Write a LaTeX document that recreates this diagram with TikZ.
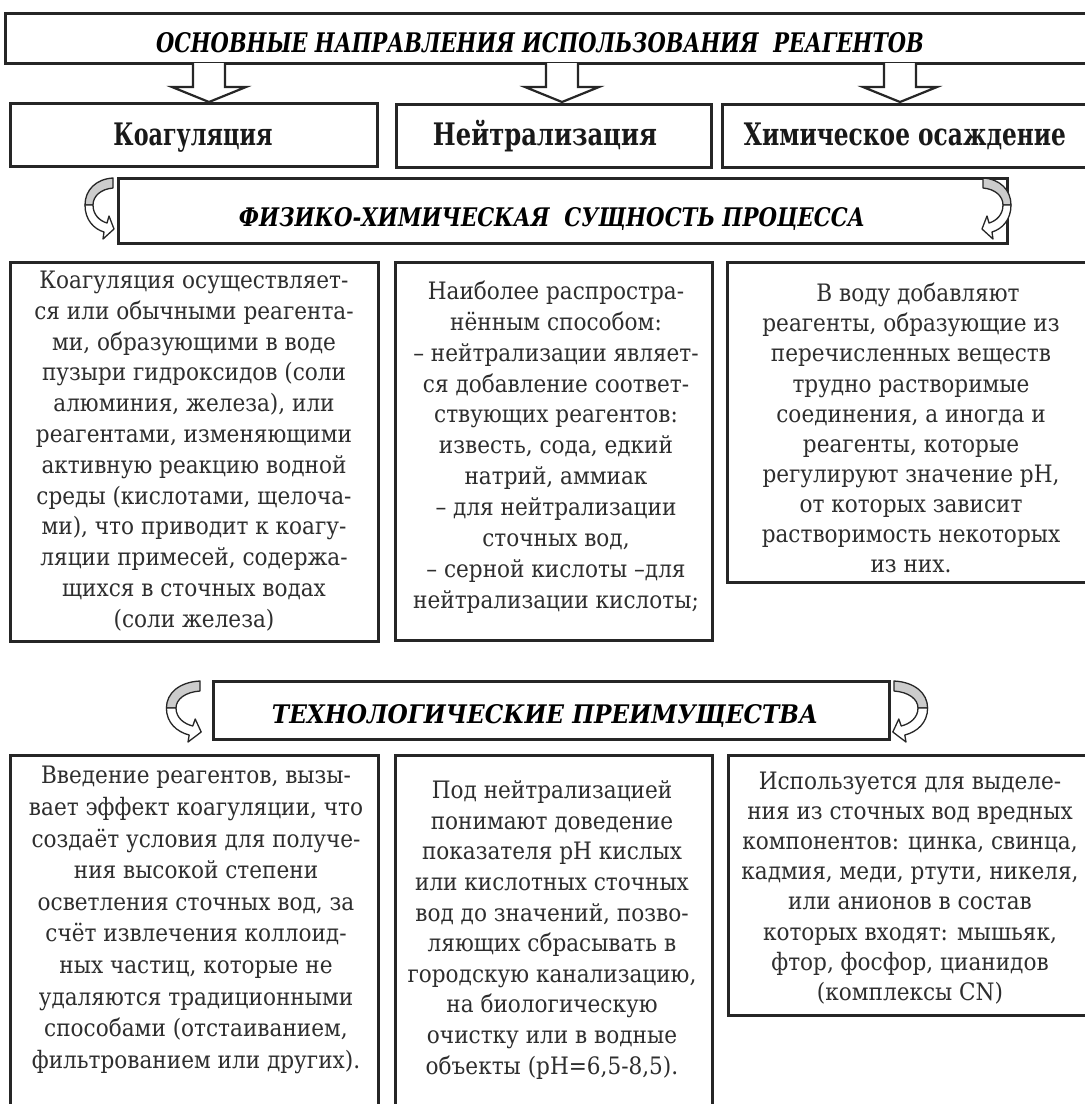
\documentclass[tikz,border=0pt]{standalone}
\usepackage{fontspec}
\setmainfont{DejaVu Serif}[FakeStretch=0.9]
\usetikzlibrary{calc}
\definecolor{ink}{HTML}{262626}
\definecolor{txt}{HTML}{2E2E2E}
\definecolor{curlgray}{HTML}{CCCCCC}
\tikzset{
  box/.style={draw=ink, line width=3pt, fill=white, rectangle, inner sep=0pt, outer sep=0pt, anchor=north west},
  body/.style={text=txt, align=center, inner sep=0pt},
  ttl/.style={text=black, inner sep=0pt, anchor=base},
  lbl/.style={text=black!90, inner sep=0pt, anchor=base},
  curlstyle/.style={draw=ink, line width=1.3pt, line join=round},
  curl/.pic={
    \filldraw[curlstyle, fill=curlgray] (0,0) .. controls (-17,-1) and (-28,-12) .. (-28,-27) -- (-20,-27) .. controls (-20,-18) and (-12,-11) .. (0,-10) -- cycle;
    \filldraw[curlstyle, fill=white] (-28,-27) .. controls (-28,-42) and (-19,-51) .. (-9,-54) -- (-10,-61) -- (1,-51) -- (-4,-38) -- (-6,-45) .. controls (-13,-43) and (-20,-37) .. (-20,-27) -- cycle;
  },
  dnarrow/.pic={
    \filldraw[draw=ink, fill=white, line width=2.2pt, line join=miter] (-16,0) -- (-16,-24) -- (-37,-24) -- (0,-39) -- (37,-24) -- (16,-24) -- (16,0);
  },
}
\newcommand{\lblfont}{\fontsize{31}{34}\selectfont\bfseries}
\begin{document}
\begin{tikzpicture}[x=1pt, y=1pt]
\useasboundingbox (0,0) rectangle (1085,-1104);
\fill[white] (0,0) rectangle (1085,-1104);
\clip (0,0) rectangle (1085,-1104);

% boxes
\node[box, minimum width=1100pt, minimum height=50pt] (top) at (5,-13) {};
\node[box, minimum width=367pt, minimum height=63pt] (k) at (10,-103) {};
\node[box, minimum width=315pt, minimum height=63pt] (n) at (396,-104) {};
\node[box, minimum width=378pt, minimum height=63pt] (h) at (722,-104) {};
\node[box, minimum width=889pt, minimum height=65pt] (phys) at (118,-178) {};
\node[box, minimum width=368pt, minimum height=379pt] (r3a) at (10,-262) {};
\node[box, minimum width=317pt, minimum height=378pt] (r3b) at (395,-262) {};
\node[box, minimum width=373pt, minimum height=320pt] (r3c) at (727,-262) {};
\node[box, minimum width=676pt, minimum height=58pt] (tech) at (213,-681) {};
\node[box, minimum width=368pt, minimum height=380pt] (r4a) at (10,-755) {};
\node[box, minimum width=317pt, minimum height=380pt] (r4b) at (395,-755) {};
\node[box, minimum width=372pt, minimum height=260pt] (r4c) at (728,-755) {};

% block arrows from the title box down to the three methods
\coordinate (a1) at (209,-63);
\coordinate (a2) at (562,-63);
\coordinate (a3) at (900,-63);
\pic at (a1) {dnarrow};
\pic at (a2) {dnarrow};
\pic at (a3) {dnarrow};

% curled arrows
\pic at (113,-178) {curl};
\pic[xscale=-1] at (983,-178) {curl};
\pic[xscale=1.2] at (200,-681) {curl};
\pic[xscale=-1.2] at (894,-681) {curl};

% titles
\node[ttl] (tt) at (540,-52) {\resizebox{768pt}{20pt}{\bfseries\itshape ОСНОВНЫЕ НАПРАВЛЕНИЯ ИСПОЛЬЗОВАНИЯ\ \ РЕАГЕНТОВ}};
\node[ttl] (pt) at (552,-226) {\resizebox{626pt}{19pt}{\bfseries\itshape ФИЗИКО-ХИМИЧЕСКАЯ\ \ СУЩНОСТЬ ПРОЦЕССА}};
\node[ttl] (tp) at (545,-723) {\resizebox{546pt}{19pt}{\bfseries\itshape ТЕХНОЛОГИЧЕСКИЕ ПРЕИМУЩЕСТВА}};

% method labels
\node[lbl] (kl) at (193,-145) {\resizebox{159pt}{\height}{\lblfont Коагуляция}};
\node[lbl] (nl) at (545,-145) {\resizebox{224pt}{\height}{\lblfont Нейтрализация}};
\node[lbl] (hl) at (905,-145) {\resizebox{322pt}{\height}{\lblfont Химическое осаждение}};

% body texts, row 3
\node[body, font=\fontsize{24}{30.8}\selectfont] (t3a) at (194,-451) {Коагуляция осуществляет-\\ся или обычными реагента-\\ми, образующими в воде\\пузыри гидроксидов (соли\\алюминия, железа), или\\реагентами, изменяющими\\активную реакцию водной\\среды (кислотами, щелоча-\\ми), что приводит к коагу-\\ляции примесей, содержа-\\щихся в сточных водах\\(соли железа)};
\node[body, font=\fontsize{24}{30.9}\selectfont] (t3b) at (556,-447) {Наиболее распростра-\\нённым способом:\\– нейтрализации являет-\\ся добавление соответ-\\ствующих реагентов:\\известь, сода, едкий\\натрий, аммиак\\– для нейтрализации\\сточных вод,\\– серной кислоты –для\\нейтрализации кислоты;};
\node[body, font=\fontsize{24}{30.1}\selectfont] (t3c) at (911,-428) {\hspace*{14pt}В воду добавляют\\реагенты, образующие из\\перечисленных веществ\\трудно растворимые\\соединения, а иногда и\\реагенты, которые\\регулируют значение рН,\\от которых зависит\\растворимость некоторых\\из них.};

% body texts, row 4
\node[body, font=\fontsize{24}{31.6}\selectfont] (t4a) at (196,-920) {Введение реагентов, вызы-\\вает эффект коагуляции, что\\создаёт условия для получе-\\ния высокой степени\\осветления сточных вод, за\\счёт извлечения коллоид-\\ных частиц, которые не\\удаляются традиционными\\способами (отстаиванием,\\фильтрованием или других).};
\node[body, font=\fontsize{24}{30.6}\selectfont] (t4b) at (552,-930) {Под нейтрализацией\\понимают доведение\\показателя рН кислых\\или кислотных сточных\\вод до значений, позво-\\ляющих сбрасывать в\\городскую канализацию,\\на биологическую\\очистку или в водные\\объекты (рН=6,5-8,5).};
\node[body, font=\fontsize{24}{30.1}\selectfont] (t4c) at (910,-888) {Используется для выделе-\\ния из сточных вод вредных\\компонентов: цинка, свинца,\\кадмия, меди, ртути, никеля,\\или анионов в состав\\которых входят: мышьяк,\\фтор, фосфор, цианидов\\(комплексы CN)};
\end{tikzpicture}
\end{document}
